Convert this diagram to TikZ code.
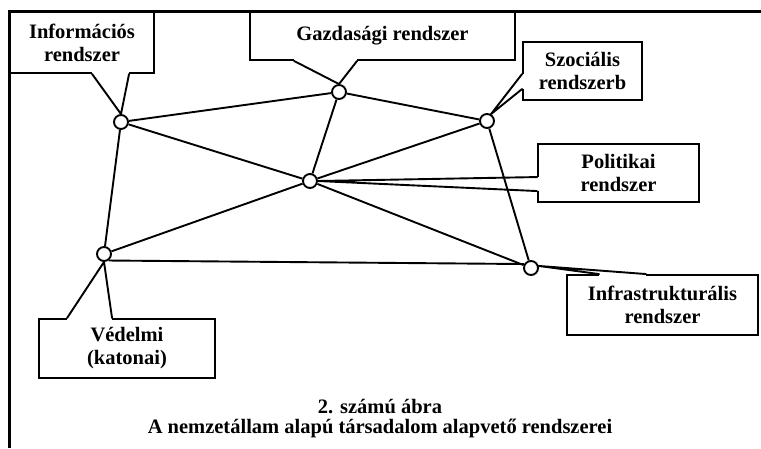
\documentclass[tikz,border=0pt]{standalone}
\usepackage{fontspec}
\setmainfont{Liberation Serif}
\usetikzlibrary{calc}

\begin{document}
\begin{tikzpicture}[
        x=1pt, y=-1pt,
        line width=1.9pt,
        hub/.style={circle, draw, fill=white, minimum size=14pt, inner sep=0pt},
        sysbox/.style={draw, fill=white, align=center, inner sep=0pt,
            font=\fontsize{20.5}{23}\selectfont\bfseries},
        gap/.style={fill=white, draw=none},
        pointer/.style={line cap=round, line join=round}
    ]
        \useasboundingbox (0,0) rectangle (761,448);
        % Keret
        \draw[line width=3pt] (9.5,448) -- (9.5,11) -- (761,11);

        % Rendszerek dobozai
        \node[sysbox, minimum width=144pt, minimum height=61pt] (infobox)  at (82,42.5)    {Információs\\rendszer};
        \node[sysbox, minimum width=265pt, minimum height=48pt] (gazdbox)  at (382.5,36)   {Gazdasági rendszer};
        \node[sysbox, minimum width=119pt, minimum height=58pt] (szocbox)  at (582.5,71)   {Szociális\\rendszerb};
        \node[sysbox, minimum width=161pt, minimum height=58pt] (polbox)   at (618.5,173)  {Politikai\\rendszer};
        \node[sysbox, minimum width=191pt, minimum height=60pt] (infrabox) at (662.5,305)  {Infrastrukturális\\rendszer};
        \node[sysbox, minimum width=176pt, minimum height=59pt] (vedbox)   at (127,348.5)  {Védelmi\\(katonai)};

        % Csomópontok
        \node[hub] (info)  at (121,122) {};
        \node[hub] (gazd)  at (339,92)  {};
        \node[hub] (szoc)  at (487,121) {};
        \node[hub] (pol)   at (310,181) {};
        \node[hub] (ved)   at (104,254) {};
        \node[hub] (infra) at (531,268) {};

        % Kapcsolatok
        \draw (info) -- (gazd);
        \draw (info) -- (pol);
        \draw (info) -- (ved);
        \draw (gazd) -- (pol);
        \draw (gazd) -- (szoc);
        \draw (szoc) -- (pol);
        \draw (szoc) -- (infra);
        \draw (pol) -- (ved);
        \draw (pol) -- (infra);
        \draw (ved.-55) -- (infra.150);

        % Mutatók a dobozoktól
        \fill[gap] ([xshift=83pt,yshift=1.8pt]infobox.south west) rectangle ([xshift=120pt,yshift=-1.8pt]infobox.south west);
        \draw[pointer] ([xshift=83pt]infobox.south west) -- (info.north) -- ([xshift=120pt]infobox.south west);

        \fill[gap] ([xshift=45pt,yshift=1.8pt]gazdbox.south west) rectangle ([xshift=108pt,yshift=-1.8pt]gazdbox.south west);
        \draw[pointer] ([xshift=45pt]gazdbox.south west) -- (gazd.north) -- ([xshift=108pt]gazdbox.south west);

        \fill[gap] ([xshift=-1.8pt,yshift=-33pt]szocbox.north west) rectangle ([xshift=1.8pt,yshift=-48pt]szocbox.north west);
        \draw[pointer] ([yshift=-33pt]szocbox.north west) -- (szoc.60) -- ([yshift=-48pt]szocbox.north west);

        \fill[gap] ([xshift=-1.8pt,yshift=-34pt]polbox.north west) rectangle ([xshift=1.8pt,yshift=-48pt]polbox.north west);
        \draw[pointer] ([yshift=-34pt]polbox.north west) -- (pol.east) -- ([yshift=-48pt]polbox.north west);

        \fill[gap] ([xshift=33pt,yshift=1.8pt]infrabox.north west) rectangle ([xshift=80pt,yshift=-1.8pt]infrabox.north west);
        \draw[pointer] ([xshift=33pt]infrabox.north west) -- (infra.15) -- ([xshift=80pt]infrabox.north west);

        \fill[gap] ([xshift=29pt,yshift=1.8pt]vedbox.north west) rectangle ([xshift=74pt,yshift=-1.8pt]vedbox.north west);
        \draw[pointer] ([xshift=29pt]vedbox.north west) -- (ved.south) -- ([xshift=74pt]vedbox.north west);

        % Ábra felirata
        \node[font=\fontsize{20.5}{20}\selectfont\bfseries, align=center] (caption) at (380,419)
            {2. számú ábra\\A nemzetállam alapú társadalom alapvető rendszerei};
\end{tikzpicture}
\end{document}
